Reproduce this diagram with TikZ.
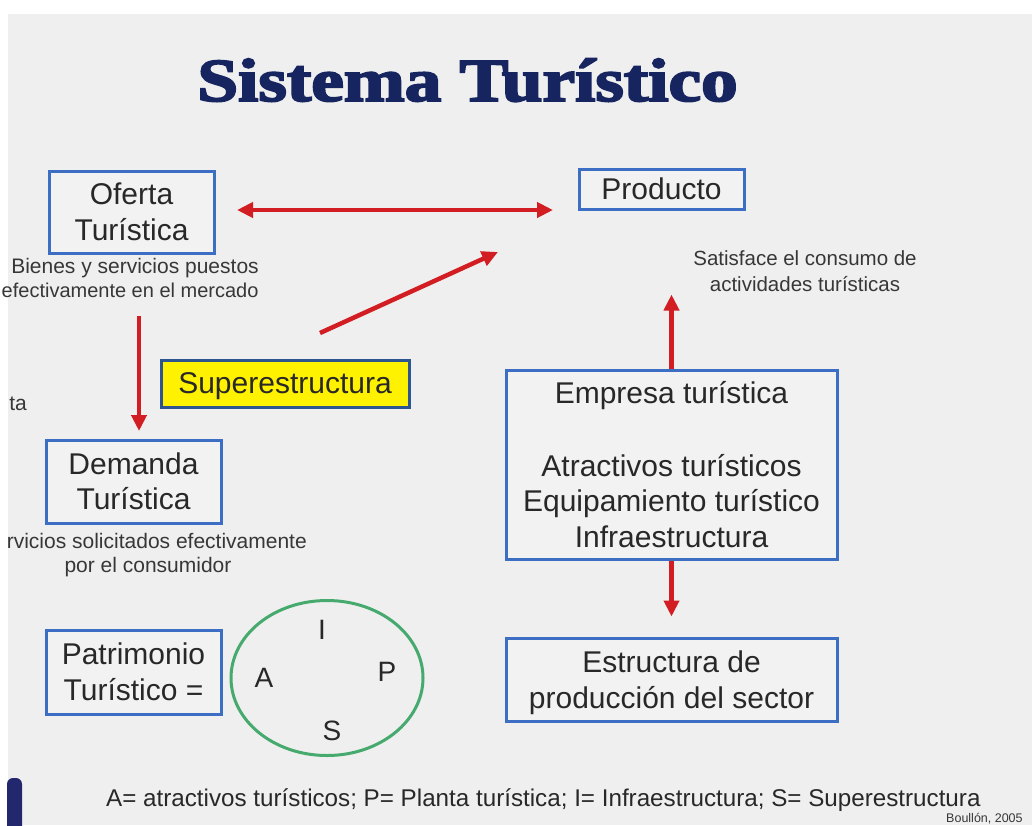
\documentclass[tikz,border=0pt]{standalone}
\usepackage{fontspec}
\usepackage{graphicx}
\setmainfont{Liberation Sans}
\newfontfamily\titlefont{Liberation Serif Bold}[FakeBold=3]
\usetikzlibrary{arrows.meta,shapes.geometric}
\definecolor{bg}{RGB}{239,239,239}
\definecolor{boxfill}{RGB}{242,242,242}
\definecolor{boxblue}{RGB}{60,110,196}
\definecolor{supborder}{RGB}{45,85,145}
\definecolor{arrred}{RGB}{210,30,35}
\definecolor{titleblue}{RGB}{22,36,96}
\definecolor{txt}{RGB}{40,40,40}
\definecolor{desc}{RGB}{55,55,55}
\definecolor{ringgreen}{RGB}{70,170,110}
\definecolor{navy}{RGB}{35,40,110}
\begin{document}
\begin{tikzpicture}[x=1pt,y=-1pt,
  box/.style={draw=boxblue,line width=3pt,fill=boxfill,inner sep=0pt,align=center,text=txt,font=\fontsize{30}{35.5}\selectfont},
  arr/.style={draw=arrred,line width=4.5pt,-{Triangle[length=16pt,width=15pt]}},
  darr/.style={draw=arrred,line width=4.5pt,{Triangle[length=16pt,width=15pt]}-{Triangle[length=16pt,width=15pt]}},
  small/.style={text=desc,font=\fontsize{21}{26}\selectfont,inner sep=0pt},
  letter/.style={text=txt,font=\fontsize{28}{30}\selectfont,inner sep=0pt}]
\useasboundingbox (0,0) rectangle (1032,825);
\clip (0,0) rectangle (1032,825);
\fill[white] (0,0) rectangle (1032,825);
\fill[bg] (8,14) rectangle (1032,825);
\fill[navy,rounded corners=6pt] (7,778) rectangle (22,840);

% title
\node[anchor=base,text=titleblue,inner sep=0pt] (title) at (467.5,101)
  {\scalebox{1.2}[1]{\titlefont\fontsize{61}{61}\selectfont Sistema Turístico}};

% boxes
\node[box,minimum width=165pt,minimum height=82pt] (ofe) at (131.5,212) {Oferta\\Turística};
\node[box,minimum width=165pt,minimum height=40pt] (prod) at (661.5,189) {Producto};
\node[box,draw=supborder,fill=yellow,minimum width=248pt,minimum height=47pt,text depth=0pt] (sup) at (285,383.5) {Superestructura};
\node[box,minimum width=175pt,minimum height=83pt] (dem) at (133.5,481.5) {Demanda\\Turística};
\node[box,minimum width=175pt,minimum height=84pt] (pat) at (133.5,672) {Patrimonio\\Turístico =};
\node[box,minimum width=331pt,minimum height=189pt] (emp) at (671.5,464.5)
  {Empresa turística\\[37.5pt]Atractivos turísticos\\Equipamiento turístico\\Infraestructura};
\node[box,minimum width=331pt,minimum height=83pt] (estr) at (671.5,679.5) {\rule{0pt}{28pt}Estructura de\\producción del sector};

% descriptions
\node[small,anchor=base] (od1) at (135,273) {Bienes y servicios puestos};
\node[small,anchor=base west,font=\fontsize{20}{24}\selectfont] (od2) at (1.5,297) {efectivamente en el mercado};
\node[small,anchor=base east] (dd1) at (307,548) {rvicios solicitados efectivamente};
\node[small,anchor=base] (dd2) at (148,572) {por el consumidor};
\node[small,anchor=base east] (ta) at (27,410) {ta};
\node[small,align=center,font=\fontsize{20.5}{26}\selectfont] (sat) at (805,271) {Satisface el consumo de\\actividades turísticas};

% ring
\node[draw=ringgreen,line width=3pt,ellipse,minimum width=192pt,minimum height=155pt,inner sep=0pt] (ring) at (327,678) {};
\node[letter] (lI) at (322,630) {I};
\node[letter] (lA) at (264,678) {A};
\node[letter] (lP) at (387,672) {P};
\node[letter] (lS) at (332,731) {S};

% footer
\node[anchor=base west,inner sep=0pt,text=txt,font=\fontsize{24.2}{28}\selectfont] (foot) at (106,806)
  {A= atractivos turísticos; P= Planta turística; I= Infraestructura; S= Superestructura};
\node[anchor=base west,inner sep=0pt,text=desc,font=\fontsize{12.5}{14}\selectfont] (src) at (946,822.5) {Boullón, 2005};

% arrows
\draw[darr,shorten <=21.5pt,shorten >=24.5pt] ([yshift=2pt]ofe.east) -- ([yshift=2pt]ofe.east -| prod.west);
\coordinate (sa) at (320,333);
\coordinate (sb) at (498,252);
\draw[arr] (sa) -- (sb);
\coordinate (oa) at (139,316);
\draw[arr,shorten >=7.5pt] (oa) -- (oa |- dem.north);
\draw[arr] (emp.north) -- ++(0,-74);
\draw[arr,shorten >=20pt] (emp.south) -- (estr.north);
\end{tikzpicture}
\end{document}
